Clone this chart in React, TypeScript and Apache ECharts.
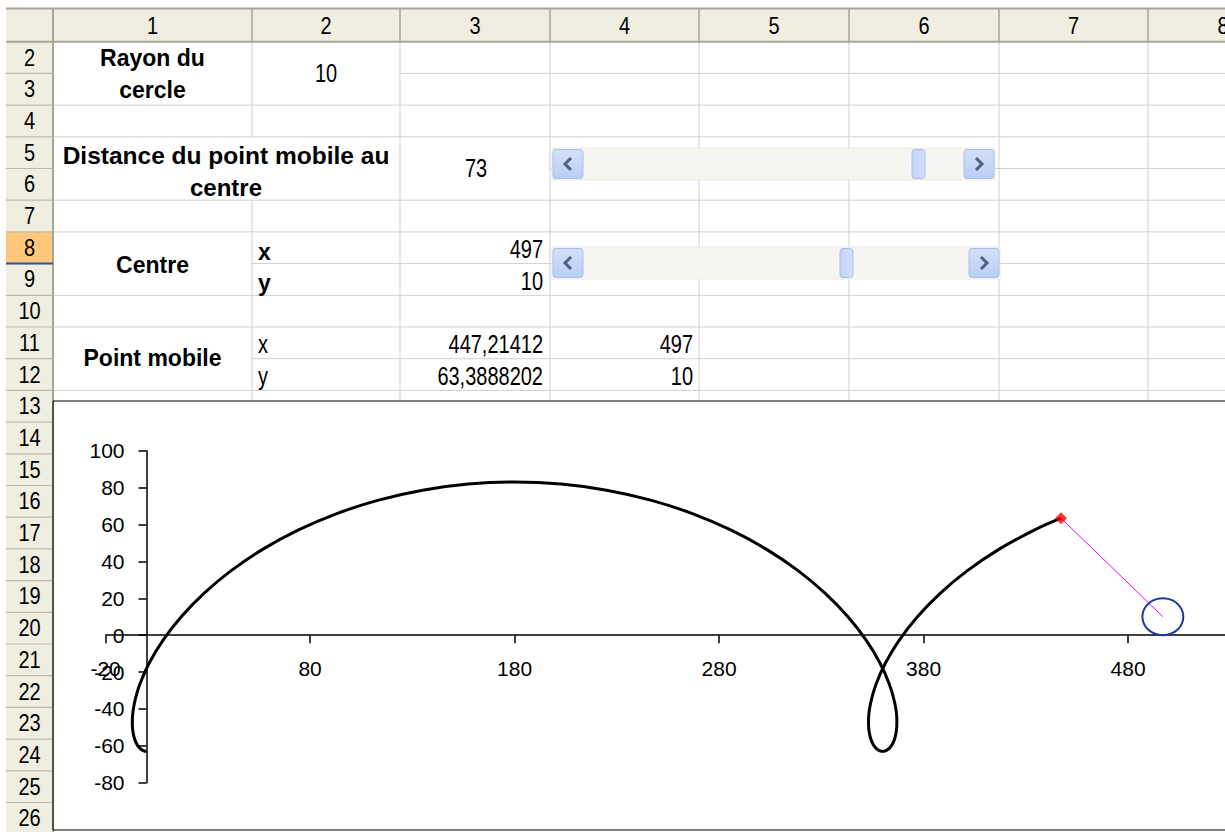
import React, { useEffect, useRef } from "react";
import * as echarts from "echarts";

// ---- chart data (trochoid traced by the moving point) ----
const curveX = [0, -1.363, -2.676, -3.894, -4.967, -5.851, -6.5, -6.871, -6.924, -6.619, -5.921, -4.798, -3.22,
  1.403, 8.109, 17, 28.109, 41.403, 56.78, 74.079, 93.076, 113.5, 135.033, 157.324, 180, 202.676, 224.967, 246.5,
  266.924, 285.921, 303.22, 318.597, 331.891, 343, 351.891, 358.597, 363.22, 365.921, 366.924,
  366.871, 366.5, 365.851, 364.967, 363.894, 362.676, 361.363, 360, 358.637, 357.324, 356.106, 355.033, 354.149,
  353.5, 353.129, 353.076, 354.079, 356.78, 361.403, 368.109, 377, 388.109, 401.403, 416.78, 434.079, 447.214];
const curveY = [-63, -62.722, -61.891, -60.513, -58.597, -56.161, -53.22, -49.798, -45.921, -41.619, -36.924, -31.871, -26.5,
  -14.967, -2.676, 10, 22.676, 34.967, 46.5, 56.924, 65.921, 73.22, 78.597, 81.891, 83, 81.891, 78.597, 73.22,
  65.921, 56.924, 46.5, 34.967, 22.676, 10, -2.676, -14.967, -26.5, -36.924, -45.921,
  -49.798, -53.22, -56.161, -58.597, -60.513, -61.891, -62.722, -63, -62.722, -61.891, -60.513, -58.597, -56.161,
  -53.22, -49.798, -45.921, -36.924, -26.5, -14.967, -2.676, 10, 22.676, 34.967, 46.5, 56.924, 63.389];

// rolling circle (radius 10, centre 497 ; 10)
const circleX = [507, 506.659, 505.66, 504.071, 502, 499.588, 497, 494.412, 492, 489.929, 488.34, 487.341, 487,
  487.341, 488.34, 489.929, 492, 494.412, 497, 499.588, 502, 504.071, 505.66, 506.659, 507];
const circleY = [10, 12.588, 15, 17.071, 18.66, 19.659, 20, 19.659, 18.66, 17.071, 15, 12.588, 10,
  7.412, 5, 2.929, 1.34, 0.341, 0, 0.341, 1.34, 2.929, 5, 7.412, 10];

const pointMobile = [447.21412, 63.3888202];
const centre = [497, 10];

const xTicks = { min: -20, max: 580, interval: 100 };
const yTicks = { min: -80, max: 100, interval: 20 };

// ---- spreadsheet content ----
const colLabels = ["1", "2", "3", "4", "5", "6", "7", "8"];
const firstRow = 2;
const lastRow = 26;
const rayonLabel = ["Rayon du", "cercle"];
const rayonValue = "10";
const distanceLabel = ["Distance du point mobile au", "centre"];
const distanceValue = "73";
const centreLabel = "Centre";
const centreValues = ["497", "10"];
const pointLabel = "Point mobile";
const pointValuesC3 = ["447,21412", "63,3888202"];
const pointValuesC4 = ["497", "10"];

const FONT = "'Liberation Sans', Arial, Helvetica, sans-serif";
const COLS = [53, 252, 400, 550, 699, 849, 999, 1148, 1298];
const ROW0 = 41.7;
const RH = 31.7;
const rowTop = (n: number) => ROW0 + (n - 2) * RH;
const HDR = "#F0EEE1";
const HDR_LINE = "#A7A593";
const GRID = "#CFCFCF";
const CHART_TOP = 401;
const CHART_BOTTOM = 830;

// plot area geometry
const GRID_LEFT = 105.6;
const GRID_TOP = 450.7;
const GRID_W = 1227;
const GRID_H = 332;

function txt(x: number, y: number, text: string, o: any = {}) {
  const align = o.align || "center";
  return {
    type: "text",
    x,
    y,
    scaleY: o.sy ?? 1,
    z: 5,
    style: {
      text,
      fill: "#000",
      fontSize: o.size || 20,
      fontWeight: o.bold ? "bold" : "normal",
      fontFamily: FONT,
      align,
      verticalAlign: "middle",
      textAlign: align,
      textVerticalAlign: "middle",
    },
  };
}

function ln(x1: number, y1: number, x2: number, y2: number, stroke: string, lw = 1) {
  return { type: "line", z: 1, shape: { x1, y1, x2, y2 }, style: { stroke, lineWidth: lw } };
}

function scrollbar(x1: number, x2: number, y1: number, y2: number, thumbX: number) {
  const els: any[] = [];
  const grad = () =>
    new echarts.graphic.LinearGradient(0, 0, 0, 1, [
      { offset: 0, color: "#D3E0FB" },
      { offset: 1, color: "#B9CDF5" },
    ]);
  const thumbFill = new echarts.graphic.LinearGradient(0, 0, 1, 0, [
    { offset: 0, color: "#C3D4F8" },
    { offset: 1, color: "#D5E1FB" },
  ]);
  els.push({ type: "rect", z: 3, shape: { x: x1, y: y1, width: x2 - x1, height: y2 - y1 }, style: { fill: "#F6F5EF", stroke: "#EEECE3", lineWidth: 1 } });
  const bh = y2 - y1 - 3;
  const by = y1 + 1.5;
  const cy = by + bh / 2;
  els.push({ type: "rect", z: 4, shape: { x: x1 + 1, y: by, width: 30, height: bh, r: 3 }, style: { fill: grad(), stroke: "#A9C0EE", lineWidth: 1 } });
  els.push({ type: "polyline", z: 5, shape: { points: [[x1 + 19, cy - 6], [x1 + 13, cy], [x1 + 19, cy + 6]] }, style: { stroke: "#4D6185", lineWidth: 3, fill: null } });
  els.push({ type: "rect", z: 4, shape: { x: x2 - 31, y: by, width: 30, height: bh, r: 3 }, style: { fill: grad(), stroke: "#A9C0EE", lineWidth: 1 } });
  els.push({ type: "polyline", z: 5, shape: { points: [[x2 - 19, cy - 6], [x2 - 13, cy], [x2 - 19, cy + 6]] }, style: { stroke: "#4D6185", lineWidth: 3, fill: null } });
  els.push({ type: "rect", z: 4, shape: { x: thumbX, y: by, width: 13, height: bh, r: 3 }, style: { fill: thumbFill, stroke: "#A9BFEC", lineWidth: 1 } });
  return els;
}

function buildSheet() {
  const els: any[] = [];
  els.push({ type: "rect", z: 0, shape: { x: 6, y: 9, width: 1400, height: ROW0 - 9 }, style: { fill: HDR } });
  els.push({ type: "rect", z: 0, shape: { x: 6, y: ROW0, width: 47, height: 832 - ROW0 }, style: { fill: HDR } });
  els.push({ type: "rect", z: 0, shape: { x: 6, y: rowTop(8), width: 47, height: RH }, style: { fill: "#FFC77C" } });

  for (let i = 1; i < COLS.length; i++) {
    const x = COLS[i];
    if (x === 252) {
      els.push(ln(x, ROW0, x, rowTop(5), GRID));
      els.push(ln(x, rowTop(7), x, CHART_TOP, GRID));
    } else {
      els.push(ln(x, ROW0, x, CHART_TOP, GRID));
    }
  }
  const skip: Record<number, number> = { 3: 400, 6: 550, 9: 252, 12: 252 };
  for (let n = 3; n <= 13; n++) {
    const y = rowTop(n);
    els.push(ln(skip[n] ?? COLS[0], y, 1400, y, GRID));
  }

  els.push(ln(6, 8.5, 1400, 8.5, HDR_LINE, 2));
  els.push(ln(6, ROW0, 1400, ROW0, HDR_LINE, 2));
  els.push(ln(COLS[0], 9, COLS[0], 832, HDR_LINE, 2));
  for (let i = 1; i < COLS.length; i++) els.push(ln(COLS[i], 9, COLS[i], ROW0, HDR_LINE, 1.5));
  for (let n = firstRow + 1; n <= lastRow + 1; n++) els.push(ln(6, rowTop(n), COLS[0], rowTop(n), "#BDB9A6", 1.2));
  els.push(ln(6, rowTop(9), COLS[0], rowTop(9), "#2F4DB5", 2));

  colLabels.forEach((c, i) => els.push(txt((COLS[i] + COLS[i + 1]) / 2, 25.5, c, { size: 20, sy: 1.15 })));
  for (let n = firstRow; n <= lastRow; n++) els.push(txt(29.5, rowTop(n) + RH / 2, String(n), { size: 20, sy: 1.15 }));

  const c1 = (COLS[0] + COLS[1]) / 2;
  els.push(txt(c1, 58, rayonLabel[0], { bold: true, size: 23 }));
  els.push(txt(c1, 90, rayonLabel[1], { bold: true, size: 23 }));
  els.push(txt(326, 74, rayonValue, { sy: 1.25 }));
  els.push(txt(226, 155, distanceLabel[0], { bold: true, size: 24.5 }));
  els.push(txt(226, 187, distanceLabel[1], { bold: true, size: 24 }));
  els.push(txt(476, 169, distanceValue, { sy: 1.25 }));
  els.push(txt(c1, 265, centreLabel, { bold: true, size: 23 }));
  els.push(txt(258, 252, "x", { bold: true, size: 23, align: "left" }));
  els.push(txt(258, 283, "y", { bold: true, size: 23, align: "left" }));
  els.push(txt(543, 250, centreValues[0], { sy: 1.25, align: "right" }));
  els.push(txt(543, 282, centreValues[1], { sy: 1.25, align: "right" }));
  els.push(txt(c1, 358, pointLabel, { bold: true, size: 23 }));
  els.push(txt(258, 345, "x", { sy: 1.25, align: "left" }));
  els.push(txt(258, 377, "y", { sy: 1.25, align: "left" }));
  els.push(txt(543, 345, pointValuesC3[0], { sy: 1.25, align: "right" }));
  els.push(txt(543, 377, pointValuesC3[1], { sy: 1.25, align: "right" }));
  els.push(txt(693, 345, pointValuesC4[0], { sy: 1.25, align: "right" }));
  els.push(txt(693, 377, pointValuesC4[1], { sy: 1.25, align: "right" }));

  els.push(...scrollbar(552, 995, 148, 180, 912));
  els.push(...scrollbar(552, 1000, 247, 279, 840));

  els.push({ type: "rect", z: 1, shape: { x: COLS[0], y: CHART_TOP, width: 1400, height: CHART_BOTTOM - CHART_TOP }, style: { fill: "none", stroke: "#000", lineWidth: 1 } });
  return els;
}

export default function App() {
  const ref = useRef<HTMLDivElement>(null);
  useEffect(() => {
    if (!ref.current) return;
    const chart = echarts.init(ref.current, null, { renderer: "svg" });
    const axisText = { fontSize: 21, color: "#000", fontFamily: FONT };
    // axes cross at zero: shift them by the pixel distance from the grid edge to the zero line
    const xAxisOffset = -((0 - yTicks.min) / (yTicks.max - yTicks.min)) * GRID_H;
    const yAxisOffset = -((0 - xTicks.min) / (xTicks.max - xTicks.min)) * GRID_W;
    chart.setOption({
      animation: false,
      backgroundColor: "#fff",
      graphic: { elements: buildSheet() },
      grid: { left: GRID_LEFT, top: GRID_TOP, width: GRID_W, height: GRID_H },
      xAxis: {
        type: "value",
        min: xTicks.min,
        max: xTicks.max,
        interval: xTicks.interval,
        offset: xAxisOffset,
        axisLine: { show: true, onZero: false, lineStyle: { color: "#000", width: 1.5 } },
        axisTick: { show: true, length: 8, lineStyle: { color: "#000", width: 1.5 } },
        axisLabel: { ...axisText, margin: 23, showMaxLabel: false, hideOverlap: false },
        splitLine: { show: false },
      },
      yAxis: {
        type: "value",
        min: yTicks.min,
        max: yTicks.max,
        interval: yTicks.interval,
        offset: yAxisOffset,
        axisLine: { show: true, onZero: false, lineStyle: { color: "#000", width: 1.5 } },
        axisTick: { show: true, length: 8, lineStyle: { color: "#000", width: 1.5 } },
        axisLabel: { ...axisText, margin: 22, hideOverlap: false },
        splitLine: { show: false },
      },
      series: [
        {
          type: "line",
          data: curveX.map((x, i) => [x, curveY[i]]),
          showSymbol: false,
          smooth: 0.4,
          lineStyle: { color: "#000", width: 3 },
          z: 3,
        },
        {
          type: "line",
          data: [pointMobile, centre],
          showSymbol: false,
          lineStyle: { color: "#FF00FF", width: 1 },
          z: 3,
        },
        {
          type: "line",
          data: circleX.map((x, i) => [x, circleY[i]]),
          showSymbol: false,
          smooth: 0.4,
          lineStyle: { color: "#1C36A3", width: 2 },
          z: 3,
        },
        {
          type: "scatter",
          data: [pointMobile],
          symbol: "diamond",
          symbolSize: 12,
          itemStyle: { color: "#FF0000" },
          z: 4,
        },
      ],
    });
    return () => chart.dispose();
  }, []);
  return (
    <div style={{ position: "fixed", left: 0, top: 0, width: 1225, height: 832, overflow: "hidden", background: "#fff" }}>
      <div ref={ref} style={{ width: 1400, height: 832 }} />
    </div>
  );
}
